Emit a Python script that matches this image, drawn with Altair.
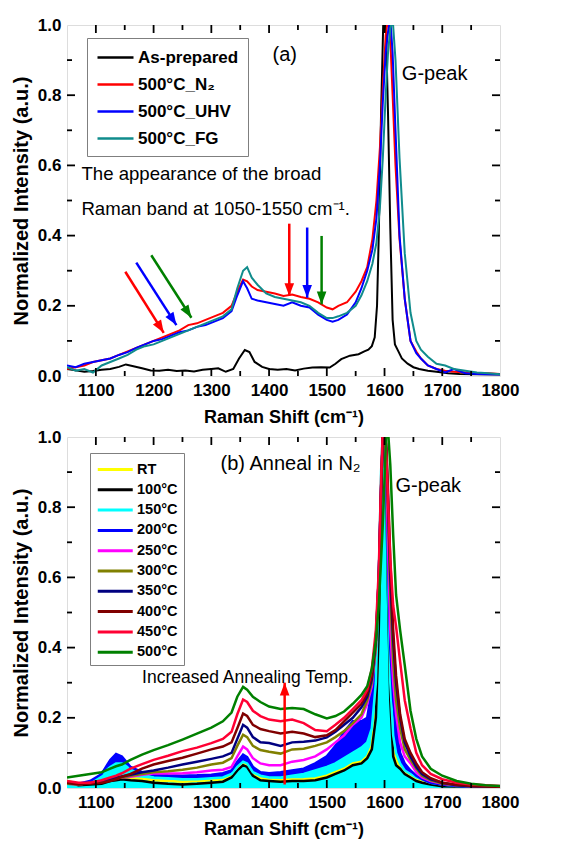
import altair as alt
import pandas as pd

FONT = "Liberation Sans"
W = 433
H = 351

# ---------------- panel (a) data ----------------
a_names = ["As-prepared", "500°C_N₂", "500°C_UHV", "500°C_FG"]
a_colors = ["#000000", "#ff0000", "#0000ff", "#108c8c"]

a_black_x = [1050, 1065, 1080, 1095, 1110, 1125, 1140, 1152, 1165, 1180,
             1195, 1210, 1225, 1240, 1255, 1270, 1285, 1300, 1312, 1325,
             1338, 1348, 1358, 1366, 1375, 1388, 1400, 1415, 1430, 1445,
             1460, 1475, 1490, 1505, 1515, 1525, 1540, 1555, 1565, 1572,
             1578, 1583, 1587, 1590, 1594, 1598, 1602, 1606, 1610, 1614,
             1618, 1624, 1630, 1640, 1650, 1660, 1675, 1690, 1710, 1730,
             1760, 1800]
a_black_y = [.02, .016, .012, .014, .018, .02, .026, .033, .028, .022,
             .016, .015, .018, .014, .016, .013, .018, .02, .022, .012,
             .02, .05, .074, .068, .04, .026, .02, .018, .02, .016,
             .021, .024, .025, .024, .035, .048, .058, .062, .07, .075,
             .085, .11, .2, .4, .75, 1.02, 1.02, .75, .42, .16,
             .09, .07, .05, .035, .025, .02, .015, .012, .008, .006,
             .005, .004]

a_x = [1050, 1065, 1080, 1095, 1110, 1125, 1140, 1155, 1170, 1185,
       1200, 1215, 1230, 1245, 1260, 1275, 1290, 1305, 1320, 1335,
       1345, 1355, 1362, 1370, 1380, 1395, 1410, 1425, 1440, 1455,
       1470, 1485, 1500, 1510, 1520, 1535, 1550, 1560, 1570, 1579,
       1586, 1592, 1597, 1602, 1606, 1610, 1614, 1619, 1626, 1635,
       1645, 1655, 1663, 1675, 1690, 1705, 1720, 1740, 1760, 1780,
       1800]
a_n2_y = [.02, .025, .03, .04, .045, .05, .06, .07, .08, .09,
          .1, .11, .12, .13, .145, .15, .16, .17, .18, .2,
          .24, .275, .27, .255, .245, .24, .235, .228, .232, .225,
          .22, .21, .195, .19, .2, .21, .24, .27, .31, .39,
          .5, .65, .82, .97, 1.02, .96, .8, .6, .39, .22,
          .1, .07, .05, .03, .02, .015, .012, .01, .008, .008,
          .006]
a_uhv_y = [.03, .025, .035, .04, .045, .05, .06, .068, .08, .09,
           .1, .105, .115, .125, .13, .14, .145, .155, .165, .185,
           .23, .27, .25, .22, .215, .21, .205, .2, .21, .2,
           .195, .175, .16, .155, .16, .175, .21, .25, .3, .36,
           .45, .6, .78, .92, .98, 1.02, .92, .7, .4, .22,
           .1, .065, .05, .03, .02, .01, .02, .008, .006, .005,
           .004]
a_fg_y = [.025, .015, .02, .01, .03, .04, .05, .06, .075, .085,
          .09, .1, .11, .12, .13, .14, .15, .16, .17, .19,
          .25, .3, .31, .28, .26, .235, .225, .22, .215, .21,
          .2, .18, .165, .165, .17, .18, .2, .23, .27, .32,
          .38, .48, .62, .8, .92, .99, 1.02, .9, .62, .35,
          .18, .1, .075, .055, .035, .03, .02, .015, .01, .008,
          .005]

arrow_a_x1 = [1151, 1170, 1196, 1435, 1466, 1491]
arrow_a_y1 = [0.297, 0.323, 0.344, 0.434, 0.423, 0.399]
arrow_a_x2 = [1217.6, 1239.5, 1265.5, 1435, 1466, 1491]
arrow_a_y2 = [0.123, 0.145, 0.166, 0.228, 0.223, 0.204]
arrow_a_color = ["#ff0000", "#0000ff", "#008000", "#ff0000", "#0000ff", "#008000"]
arrow_a_angle = [148, 147, 147, 180, 180, 180]

text_a = ["(a)", "G-peak", "The appearance of the broad", "Raman band at 1050-1550 cm⁻¹."]
text_a_x = [1406, 1630, 1075, 1075]
text_a_y = [0.915, 0.86, 0.575, 0.475]
text_a_size = [20, 20, 18.6, 18.6]

# ---------------- panel (b) data ----------------
b_names = ["RT", "100°C", "150°C", "200°C", "250°C", "300°C", "350°C", "400°C", "450°C", "500°C"]
b_colors = ["#ffff00", "#000000", "#00ffff", "#0000ff", "#ff00ff", "#808000",
            "#000080", "#800000", "#ff0033", "#008000"]

b_x = [1050, 1070, 1090, 1110, 1125, 1135, 1145, 1160, 1180, 1200,
       1225, 1250, 1275, 1300, 1320, 1335, 1345, 1355, 1362, 1372,
       1385, 1400, 1420, 1440, 1460, 1480, 1500, 1515, 1530, 1545,
       1560, 1570, 1578, 1585, 1590, 1594, 1597, 1600, 1603, 1606,
       1610, 1615, 1620, 1627, 1635, 1645, 1655, 1665, 1680, 1700,
       1725, 1750, 1775, 1800]
b_rt = [.02, .012, .015, .018, .025, .028, .03, .028, .026, .022,
        .02, .018, .02, .022, .025, .035, .055, .072, .065, .04,
        .028, .025, .022, .024, .025, .027, .035, .045, .055, .07,
        .075, .09, .12, .22, .5, .85, 1.02, 1.02, .88, .6,
        .3, .12, .08, .06, .045, .035, .025, .02, .012, .008,
        .005, .004, .003, .003]
b_100 = [.015, .008, .01, .012, .02, .022, .025, .022, .02, .015,
         .012, .01, .012, .015, .018, .03, .05, .065, .06, .035,
         .022, .02, .018, .02, .02, .022, .03, .04, .05, .065,
         .07, .085, .11, .2, .45, .8, 1.02, 1.02, .85, .55,
         .25, .09, .065, .055, .04, .03, .02, .015, .01, .005,
         .004, .003, .003, .003]
b_150 = [.01, .01, .015, .04, .06, .07, .07, .055, .04, .03,
         .028, .025, .025, .028, .03, .04, .06, .075, .07, .045,
         .035, .03, .03, .035, .04, .05, .06, .07, .085, .1,
         .115, .13, .17, .3, .6, .9, 1.02, 1.02, .9, .6,
         .3, .15, .1, .07, .05, .04, .03, .025, .015, .01,
         .006, .004, .003, .003]
b_200 = [.015, .012, .02, .04, .08, .097, .09, .06, .045, .038,
         .036, .035, .036, .038, .042, .05, .075, .095, .088, .06,
         .045, .042, .045, .05, .055, .07, .09, .12, .16, .19,
         .19, .2, .28, .42, .6, .85, 1.0, 1.02, .9, .65,
         .4, .25, .18, .1, .07, .05, .035, .025, .015, .01,
         .006, .004, .003, .003]
b_250 = [.012, .01, .015, .02, .025, .028, .03, .032, .038, .041,
         .041, .042, .045, .05, .052, .06, .09, .118, .11, .085,
         .07, .065, .065, .075, .08, .09, .11, .13, .15, .18,
         .2, .24, .29, .4, .6, .85, 1.0, 1.02, .92, .7,
         .45, .3, .21, .13, .09, .07, .045, .03, .02, .012,
         .008, .005, .004, .003]
b_300 = [.012, .01, .015, .02, .025, .028, .03, .035, .04, .045,
         .048, .052, .058, .067, .072, .085, .12, .152, .145, .12,
         .108, .103, .098, .11, .112, .12, .13, .145, .162, .185,
         .21, .25, .3, .4, .58, .83, 1.0, 1.02, .95, .78,
         .55, .36, .25, .17, .11, .08, .055, .035, .022, .013,
         .008, .005, .004, .003]
b_350 = [.015, .012, .015, .02, .025, .03, .033, .038, .045, .05,
         .058, .067, .075, .083, .09, .1, .14, .18, .172, .145,
         .13, .128, .12, .13, .132, .135, .144, .16, .18, .2,
         .23, .26, .31, .42, .6, .85, 1.0, 1.02, .97, .82,
         .6, .42, .3, .2, .13, .09, .06, .04, .025, .015,
         .008, .005, .004, .003]
b_400 = [.015, .01, .012, .015, .02, .025, .032, .04, .055, .067,
         .077, .086, .098, .11, .118, .13, .17, .212, .205, .18,
         .168, .162, .155, .16, .155, .145, .15, .165, .19, .215,
         .24, .27, .32, .43, .6, .85, 1.0, 1.02, .98, .85,
         .65, .45, .32, .21, .14, .1, .07, .045, .028, .015,
         .009, .006, .004, .003]
b_450 = [.02, .015, .015, .022, .03, .035, .042, .055, .068, .08,
         .092, .105, .115, .128, .14, .16, .21, .252, .245, .22,
         .205, .195, .19, .195, .185, .165, .162, .18, .2, .225,
         .25, .28, .34, .45, .62, .88, 1.02, 1.02, .95, .82,
         .65, .52, .46, .36, .25, .17, .1, .065, .04, .025,
         .015, .01, .008, .006]
b_500 = [.03, .035, .04, .045, .055, .062, .067, .08, .095, .108,
         .122, .138, .155, .172, .19, .215, .26, .288, .28, .26,
         .245, .232, .225, .228, .225, .21, .198, .205, .218, .24,
         .265, .29, .34, .42, .52, .65, .75, .88, 1.02, 1.02,
         .92, .72, .55, .45, .35, .22, .14, .09, .055, .035,
         .02, .012, .008, .006]
b_series = [b_rt, b_100, b_150, b_200, b_250, b_300, b_350, b_400, b_450, b_500]

arrow_b_x1 = [1427]
arrow_b_y1 = [0.01]
arrow_b_x2 = [1427]
arrow_b_y2 = [0.30]
arrow_b_color = ["#ff0000"]
arrow_b_angle = [0]

text_b = ["(b) Anneal in N₂", "G-peak", "Increased Annealing Temp."]
text_b_x = [1316, 1619, 1180]
text_b_y = [0.922, 0.86, 0.314]
text_b_size = [20, 20, 17.5]

x_label_values = [1100, 1200, 1300, 1400, 1500, 1600, 1700, 1800]
y_label_values = [0.0, 0.2, 0.4, 0.6, 0.8, 1.0]
x_major_ticks = [1100, 1200, 1300, 1400, 1500, 1600, 1700]
x_minor_ticks = [1150, 1250, 1350, 1450, 1550, 1650, 1750]
y_major_ticks = [0.2, 0.4, 0.6, 0.8]
y_minor_ticks = [0.1, 0.3, 0.5, 0.7, 0.9]

# ---------------- encodings ----------------
xs = alt.Scale(domain=[1050, 1800], nice=False, zero=False)
ys = alt.Scale(domain=[0, 1], nice=False, zero=False)

xaxis = alt.Axis(values=x_label_values, format="d", labelFont=FONT, labelFontSize=17,
                 labelFontWeight="bold", labelColor="black", domain=False,
                 ticks=False, grid=False, labelPadding=6, labelFlush=False,
                 labelOverlap=False, title="Raman Shift (cm⁻¹)", titleFont=FONT,
                 titleFontSize=18, titleFontWeight="bold", titleColor="black",
                 titlePadding=10)
yaxis = alt.Axis(values=y_label_values, format=".1f", labelFont=FONT,
                 labelFontSize=17, labelFontWeight="bold", labelColor="black",
                 domain=False, ticks=False, grid=False, labelPadding=6,
                 labelFlush=False, labelOverlap=False,
                 title="Normalized Intensity (a.u.)", titleFont=FONT,
                 titleFontSize=20, titleFontWeight="bold", titleColor="black",
                 titlePadding=6)

X = alt.X("x:Q", scale=xs, axis=xaxis)
Y = alt.Y("y:Q", scale=ys, axis=yaxis)


def tick_layers():
    layers = []
    for vals, L in ((x_major_ticks, 8), (x_minor_ticks, 5)):
        base = alt.Chart(pd.DataFrame({"x": vals})).mark_rule(color="black", strokeWidth=1.8)
        layers.append(base.encode(x=X, y=alt.value(H), y2=alt.value(H - L)))
        layers.append(base.encode(x=X, y=alt.value(0), y2=alt.value(L)))
    for vals, L in ((y_major_ticks, 8), (y_minor_ticks, 5)):
        base = alt.Chart(pd.DataFrame({"y": vals})).mark_rule(color="black", strokeWidth=1.8)
        layers.append(base.encode(y=Y, x=alt.value(0), x2=alt.value(L)))
        layers.append(base.encode(y=Y, x=alt.value(W), x2=alt.value(W - L)))
    return layers


def arrow_layers(x1, y1, x2, y2, colors, angles):
    df = pd.DataFrame({"x": x1, "y": y1, "x2": x2, "y2": y2, "c": colors, "ang": angles})
    shaft = alt.Chart(df).mark_rule(strokeWidth=2.5).encode(
        x=X, y=Y, x2=alt.X2("x2:Q"), y2=alt.Y2("y2:Q"),
        color=alt.Color("c:N", scale=None, legend=None))
    hd = pd.DataFrame({"x": x2, "y": y2, "c": colors, "ang": angles})
    head = alt.Chart(hd).mark_point(shape="M0,0L-0.6,1.6L0.6,1.6Z", filled=True,
                                    size=256, opacity=1).encode(
        x=X, y=Y, color=alt.Color("c:N", scale=None, legend=None),
        angle=alt.Angle("ang:Q", scale=None))
    return [shaft, head]


def text_layer(texts, xv, yv, sizes):
    df = pd.DataFrame({"x": xv, "y": yv, "t": texts, "s": sizes})
    return alt.Chart(df).mark_text(align="left", baseline="middle", font=FONT,
                                   color="black").encode(
        x=X, y=Y, text="t:N", size=alt.Size("s:Q", scale=None, legend=None))


# ---------------- panel (a) ----------------
rows = []
for name, xv, yv in ((a_names[0], a_black_x, a_black_y), (a_names[1], a_x, a_n2_y),
                     (a_names[2], a_x, a_uhv_y), (a_names[3], a_x, a_fg_y)):
    for xx, yy in zip(xv, yv):
        rows.append({"x": xx, "y": yy, "series": name})
df_a = pd.DataFrame(rows)

legend_a = alt.Legend(title=None, orient="none", legendX=20, legendY=13,
                      direction="vertical", strokeColor="#7f7f7f", fillColor="white",
                      padding=9, labelFont=FONT, labelFontSize=17,
                      labelFontWeight="bold", labelColor="black",
                      symbolType="M-1,0H3", symbolSize=324, symbolStrokeWidth=2.5,
                      rowPadding=8, labelOffset=21)

lines_a = alt.Chart(df_a).mark_line(strokeWidth=2, clip=True).encode(
    x=X, y=Y,
    color=alt.Color("series:N", scale=alt.Scale(domain=a_names, range=a_colors),
                    sort=a_names, legend=legend_a),
    detail="series:N")

panel_a = alt.layer(
    lines_a,
    *arrow_layers(arrow_a_x1, arrow_a_y1, arrow_a_x2, arrow_a_y2, arrow_a_color, arrow_a_angle),
    text_layer(text_a, text_a_x, text_a_y, text_a_size),
    *tick_layers(),
).properties(width=W, height=H)

# ---------------- panel (b) ----------------
rows = []
for name, yv in zip(b_names, b_series):
    for xx, yy in zip(b_x, yv):
        rows.append({"x": xx, "y": yy, "series": name})
df_b = pd.DataFrame(rows)

df_fill = pd.DataFrame({"x": b_x, "y150": b_150, "y200": b_200})
area_200 = alt.Chart(df_fill).mark_area(color="#0000ff", clip=True, opacity=1).encode(
    x=X, y=alt.Y("y200:Q", scale=ys, axis=yaxis))
area_150 = alt.Chart(df_fill).mark_area(color="#00ffff", clip=True, opacity=1).encode(
    x=X, y=alt.Y("y150:Q", scale=ys, axis=yaxis))

legend_b = alt.Legend(title=None, orient="none", legendX=23, legendY=16,
                      direction="vertical", strokeColor="#7f7f7f", fillColor="white",
                      padding=6, labelFont=FONT, labelFontSize=14.5,
                      labelFontWeight="bold", labelColor="black",
                      symbolType="M-1,0H3", symbolSize=306, symbolStrokeWidth=3,
                      rowPadding=3.3, labelOffset=20)

lines_b = alt.Chart(df_b).mark_line(strokeWidth=2.5, clip=True).encode(
    x=X, y=Y,
    color=alt.Color("series:N", scale=alt.Scale(domain=b_names, range=b_colors),
                    sort=b_names, legend=legend_b),
    detail="series:N")

panel_b = alt.layer(
    area_200, area_150, lines_b,
    *arrow_layers(arrow_b_x1, arrow_b_y1, arrow_b_x2, arrow_b_y2, arrow_b_color, arrow_b_angle),
    text_layer(text_b, text_b_x, text_b_y, text_b_size),
    *tick_layers(),
).properties(width=W, height=H)

chart = alt.vconcat(panel_a, panel_b, spacing=61, bounds="flush").resolve_scale(
    x="independent", y="independent", color="independent"
).resolve_legend(color="independent").properties(
    padding={"left": 10, "top": 15, "right": 5, "bottom": 2}
).configure_view(stroke="black", strokeWidth=2.2).configure(font=FONT)

chart.save("out.html", embed_options={"renderer": "svg", "actions": False})
